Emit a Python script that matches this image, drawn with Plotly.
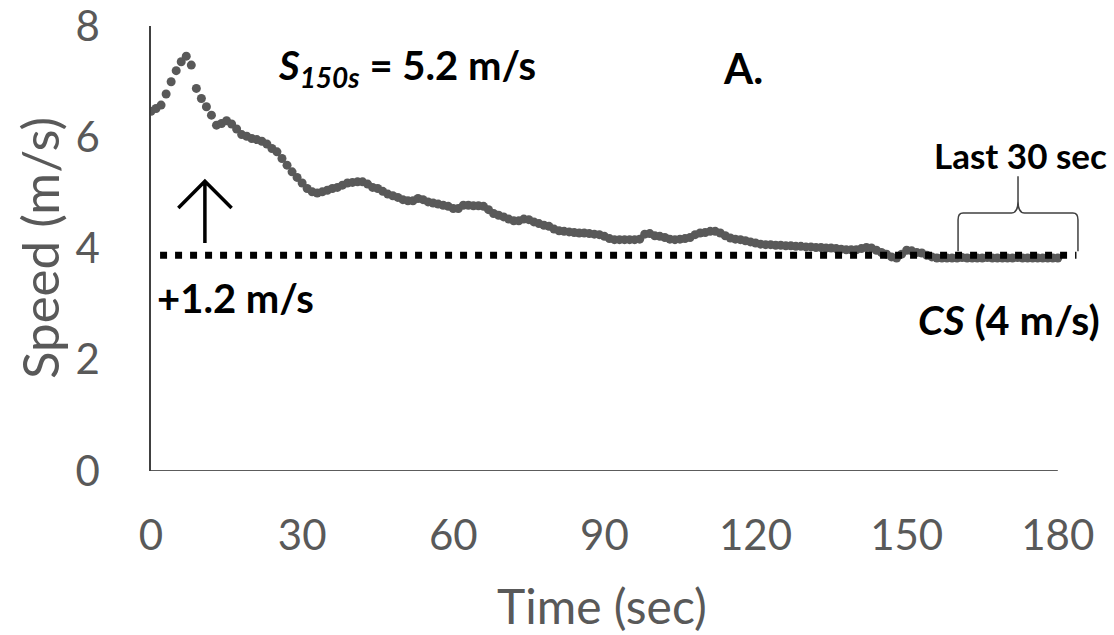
import plotly.graph_objects as go

# ---- data ----
time_s = list(range(0, 181))
speed_ms = [
    6.47, 6.52, 6.58, 6.78, 7.00, 7.20, 7.36, 7.46, 7.30, 6.88,
    6.70, 6.55, 6.40, 6.22, 6.25, 6.30, 6.24, 6.15, 6.05, 6.02,
    5.98, 5.96, 5.93, 5.88, 5.80, 5.74, 5.62, 5.50, 5.38, 5.28,
    5.18, 5.08, 5.02, 5.00, 5.02, 5.05, 5.08, 5.10, 5.14, 5.18,
    5.19, 5.20, 5.20, 5.16, 5.10, 5.08, 5.03, 4.98, 4.95, 4.92,
    4.88, 4.86, 4.86, 4.90, 4.88, 4.84, 4.82, 4.80, 4.78, 4.76,
    4.72, 4.72, 4.78, 4.78, 4.77, 4.77, 4.76, 4.70, 4.63, 4.60,
    4.57, 4.53, 4.50, 4.50, 4.53, 4.52, 4.48, 4.45, 4.42, 4.40,
    4.35, 4.32, 4.31, 4.30, 4.29, 4.28, 4.28, 4.27, 4.26, 4.25,
    4.22, 4.18, 4.16, 4.16, 4.16, 4.16, 4.16, 4.17, 4.26, 4.27,
    4.23, 4.22, 4.20, 4.17, 4.16, 4.17, 4.18, 4.20, 4.25, 4.28,
    4.29, 4.31, 4.31, 4.28, 4.23, 4.19, 4.17, 4.16, 4.14, 4.12,
    4.10, 4.08, 4.07, 4.07, 4.06, 4.06, 4.05, 4.05, 4.04, 4.04,
    4.03, 4.03, 4.02, 4.02, 4.01, 4.01, 4.00, 3.99, 3.98, 3.98,
    3.98, 4.00, 4.02, 4.01, 3.97, 3.93, 3.90, 3.85, 3.83, 3.90,
    3.97, 3.96, 3.93, 3.92, 3.88, 3.85, 3.83, 3.83, 3.83, 3.83,
    3.83, 3.84, 3.83, 3.83, 3.83, 3.83, 3.84, 3.83, 3.83, 3.83,
    3.83, 3.83, 3.84, 3.83, 3.83, 3.83, 3.83, 3.83, 3.83, 3.83,
    3.83,
]
cs_x = [1.8, 183.7]
cs_level = [3.88, 3.88]

x_ticks = [0, 30, 60, 90, 120, 150, 180]
y_ticks = [0, 2, 4, 6, 8]

# ---- layout geometry (pixels) ----
W, H = 1114, 635
L, R, T, B = 151, 31, 26, 164
X_MAX = 185
Y_MAX = 8.003
pw = W - L - R
ph = H - T - B


def px_x(px):
    return (px - L) / pw


def px_y(py):
    return (H - B - py) / ph


FONT = "Lato"
GREY = "#595959"

fig = go.Figure()
fig.add_trace(go.Scatter(
    x=time_s, y=speed_ms, mode="markers",
    marker=dict(size=9, color=GREY, line=dict(width=0)),
    showlegend=False, hoverinfo="skip",
))
fig.add_trace(go.Scatter(
    x=cs_x, y=cs_level, mode="lines",
    line=dict(color="black", width=7, dash="7px,8px"),
    showlegend=False, hoverinfo="skip",
))

# x axis line only to 180
fig.add_shape(type="line", xref="x", yref="y", x0=0, x1=180, y0=0, y1=0,
              line=dict(color="#262626", width=1.5))

# arrow
fig.add_shape(type="path", xref="x", yref="y",
              path="M 5.42 4.73 L 10.7 5.21 L 16.0 4.73 M 10.7 5.21 L 10.7 4.10",
              line=dict(color="black", width=3.5))

# curly brace over the last 30 sec
fig.add_shape(type="path", xref="x", yref="y",
              path=("M 160.2 3.95 L 160.2 4.52 Q 160.2 4.64 161.2 4.64 "
                    "L 170.8 4.64 Q 172.1 4.64 172.1 4.85 L 172.1 5.30 "
                    "M 172.1 4.85 Q 172.1 4.64 173.4 4.64 L 183.0 4.64 "
                    "Q 184.0 4.64 184.0 4.52 L 184.0 3.95"),
              line=dict(color="#404040", width=1.5))

ann = [
    dict(text="<b><i>S</i><sub><i>150s</i></sub> = 5.2 m/s</b>",
         x=px_x(276), y=px_y(67), xanchor="left", yanchor="middle",
         font=dict(size=40, color="black", family=FONT)),
    dict(text="<b>A.</b>", x=px_x(743), y=px_y(68), xanchor="center", yanchor="middle",
         font=dict(size=42, color="black", family=FONT)),
    dict(text="<b>+1.2 m/s</b>", x=px_x(155), y=px_y(298), xanchor="left", yanchor="middle",
         font=dict(size=40, color="black", family=FONT)),
    dict(text="<b><i>CS</i> (4 m/s)</b>", x=px_x(1102), y=px_y(319), xanchor="right",
         yanchor="middle", font=dict(size=41, color="black", family=FONT)),
    dict(text="<b>Last 30 sec</b>", x=px_x(1020), y=px_y(155), xanchor="center",
         yanchor="middle", font=dict(size=35, color="black", family=FONT)),
    dict(text="Time (sec)", x=px_x(602), y=px_y(605), xanchor="center", yanchor="middle",
         font=dict(size=48, color=GREY, family=FONT)),
    dict(text="Speed (m/s)", x=px_x(40), y=px_y(248), xanchor="center", yanchor="middle",
         textangle=-90, font=dict(size=51, color=GREY, family=FONT)),
]
for a in ann:
    a.update(xref="paper", yref="paper", showarrow=False)
fig.update_layout(annotations=ann)

fig.update_layout(
    width=W, height=H,
    margin=dict(l=L, r=R, t=T, b=B, pad=0, autoexpand=False),
    paper_bgcolor="white", plot_bgcolor="white",
    font=dict(family=FONT, color=GREY),
    xaxis=dict(range=[0, X_MAX], tickvals=x_ticks, ticktext=[str(v) for v in x_ticks],
               showgrid=False, zeroline=False, showline=False, ticks="",
               tickfont=dict(size=42, color=GREY, family=FONT), ticklabelstandoff=36,
               ticklabeloverflow="allow", automargin=False),
    yaxis=dict(range=[0, Y_MAX], tickvals=y_ticks, ticktext=[str(v) for v in y_ticks],
               showgrid=False, zeroline=False,
               showline=True, linecolor="#404040", linewidth=1.5, ticks="",
               tickfont=dict(size=42, color=GREY, family=FONT), ticklabelstandoff=41,
               ticklabeloverflow="allow", automargin=False),
)

fig.write_html("out.html")
